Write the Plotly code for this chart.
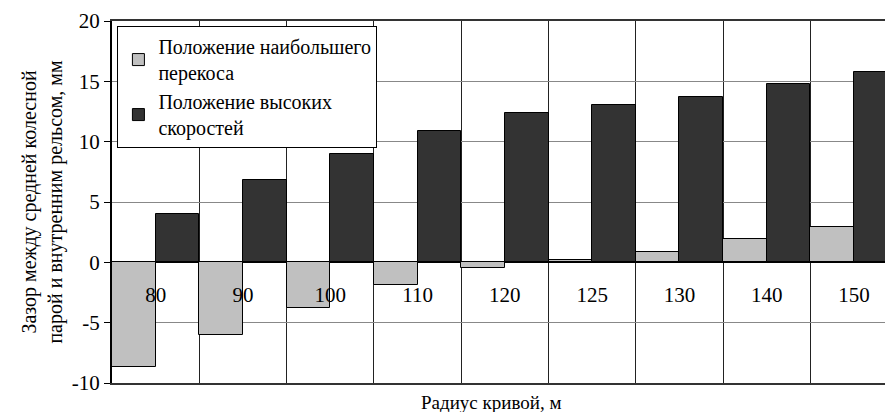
import plotly.graph_objects as go

radius_labels = ["80", "90", "100", "110", "120", "125", "130", "140", "150"]
skew_gap = [-8.7, -6.0, -3.8, -1.9, -0.45, 0.2, 0.85, 1.9, 2.9]
speed_gap = [4.0, 6.8, 9.0, 10.85, 12.4, 13.05, 13.7, 14.75, 15.75]
y_ticks = [-10, -5, 0, 5, 10, 15, 20]
y_tick_text = ["-10", "-5", "0", "5", "10", "15", "20"]

skew_name = "Положение наибольшего<br>перекоса"
speed_name = "Положение высоких<br>скоростей"

FONT = "Liberation Serif, Times New Roman, serif"
idx = list(range(len(radius_labels)))
x_range = [-0.5, 8.354]

fig = go.Figure()
fig.add_trace(
    go.Bar(
        x=idx,
        y=skew_gap,
        name=skew_name,
        marker={"color": "#c0c0c0", "line": {"color": "#000000", "width": 1}},
    )
)
fig.add_trace(
    go.Bar(
        x=idx,
        y=speed_gap,
        name=speed_name,
        marker={"color": "#333333", "line": {"color": "#000000", "width": 1}},
    )
)
# invisible helper so the label axis (x2) gets drawn at y = 0
fig.add_trace(
    go.Scatter(
        x=idx,
        y=[None] * len(idx),
        xaxis="x2",
        yaxis="y",
        showlegend=False,
        hoverinfo="skip",
    )
)

fig.update_layout(
    width=885,
    height=412,
    margin={"l": 112, "r": 0, "t": 21, "b": 29},
    paper_bgcolor="white",
    plot_bgcolor="white",
    font={"family": FONT, "size": 21, "color": "#000000"},
    barmode="group",
    bargap=0,
    bargroupgap=0,
    showlegend=True,
    legend={
        "x": 0.007,
        "y": 0.986,
        "xanchor": "left",
        "yanchor": "top",
        "bgcolor": "white",
        "bordercolor": "#000000",
        "borderwidth": 1,
        "font": {"family": FONT, "size": 20},
        "traceorder": "normal",
        "tracegroupgap": 4,
    },
    xaxis={
        "range": x_range,
        "tickvals": [i + 0.5 for i in idx[:-1]],
        "showticklabels": False,
        "showgrid": True,
        "gridcolor": "#222222",
        "gridwidth": 1,
        "showline": True,
        "linecolor": "#333333",
        "linewidth": 2,
        "mirror": True,
        "zeroline": False,
        "ticks": "",
    },
    xaxis2={
        "overlaying": "x",
        "anchor": "free",
        "position": 1 / 3,
        "range": x_range,
        "tickvals": idx,
        "ticktext": radius_labels,
        "showgrid": False,
        "showline": False,
        "zeroline": False,
        "ticks": "outside",
        "ticklen": 13,
        "tickcolor": "rgba(0,0,0,0)",
        "tickfont": {"family": FONT, "size": 21},
    },
    yaxis={
        "range": [-10, 20],
        "tickvals": y_ticks,
        "ticktext": y_tick_text,
        "showgrid": True,
        "gridcolor": "#888888",
        "gridwidth": 1,
        "showline": True,
        "linecolor": "#000000",
        "linewidth": 2,
        "ticks": "outside",
        "ticklen": 6,
        "tickcolor": "#000000",
        "zeroline": True,
        "zerolinecolor": "#000000",
        "zerolinewidth": 2,
        "tickfont": {"family": FONT, "size": 21},
        "title": {
            "text": "Зазор между средней колесной<br>парой и внутренним рельсом, мм",
            "font": {"family": FONT, "size": 20},
            "standoff": 4,
        },
    },
    annotations=[
        {
            "text": "Радиус кривой, м",
            "xref": "paper",
            "yref": "paper",
            "x": 0.49,
            "y": 0,
            "yshift": -7,
            "xanchor": "center",
            "yanchor": "top",
            "showarrow": False,
            "font": {"family": FONT, "size": 19},
        }
    ],
)

fig.write_html(
    "out.html",
    config={"displayModeBar": False},
    post_script="document.body.style.margin = '0';",
)
